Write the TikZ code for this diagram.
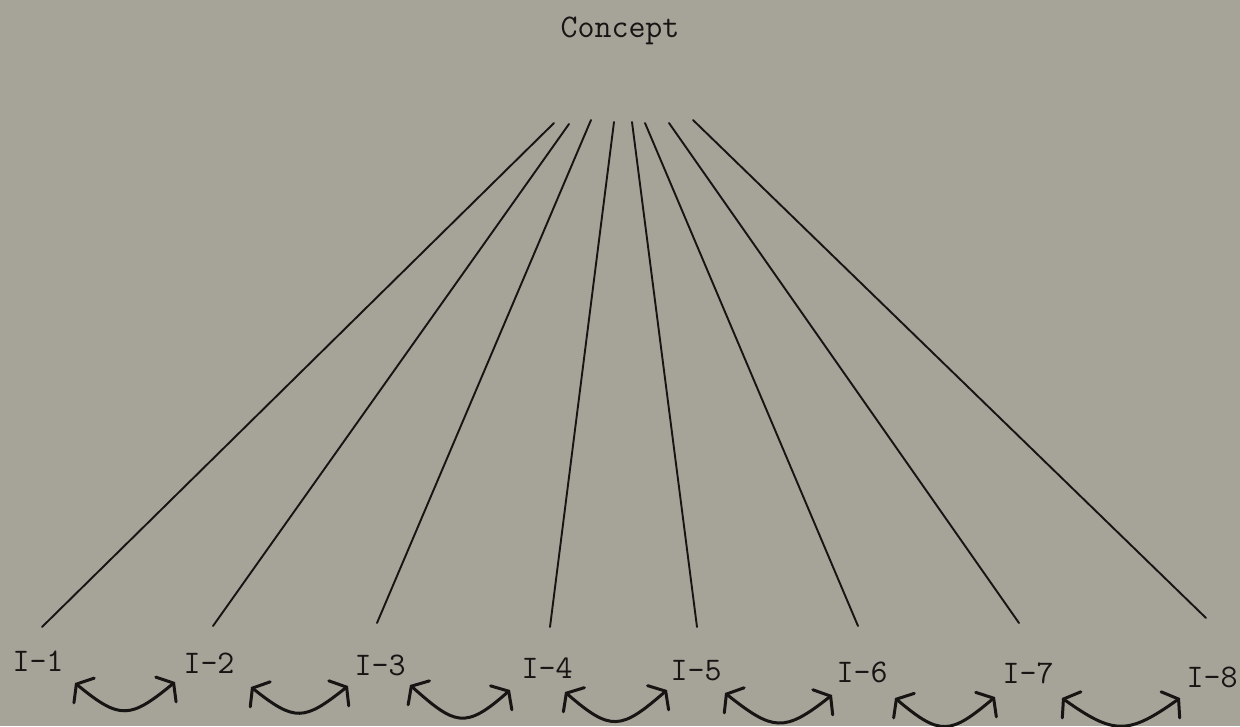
\documentclass[tikz,border=0pt]{standalone}
\usetikzlibrary{arrows.meta}
\definecolor{bg}{RGB}{166,163,152}
\definecolor{ink}{RGB}{22,21,20}
\begin{document}
\begin{tikzpicture}[x=1pt,y=-1pt,
  lbl/.style={font=\ttfamily\fontsize{33}{33}\selectfont, text=ink, inner sep=0pt, anchor=base},
  spoke/.style={draw=ink, line width=1.9pt, line cap=round},
  swap/.style={draw=ink, line width=3pt, line cap=round,
    {Straight Barb[length=10pt,width=32pt,line cap=round]}-{Straight Barb[length=10pt,width=32pt,line cap=round]}}]
\fill[bg] (0,0) rectangle (1240,726);
\useasboundingbox (0,0) rectangle (1240,726);

\node[lbl] (concept) at (620,37) {Concept};

\node[lbl] (i1) at (38,671) {I-1};
\node[lbl] (i2) at (209,673) {I-2};
\node[lbl] (i3) at (380,675) {I-3};
\node[lbl] (i4) at (547,678) {I-4};
\node[lbl] (i5) at (696,680) {I-5};
\node[lbl] (i6) at (862,682) {I-6};
\node[lbl] (i7) at (1028,683) {I-7};
\node[lbl] (i8) at (1212,687) {I-8};

% spoke ends
\coordinate (t1) at (554,123); \coordinate (b1) at (42,627);
\coordinate (t2) at (569,124); \coordinate (b2) at (213,626);
\coordinate (t3) at (591,120); \coordinate (b3) at (377,623);
\coordinate (t4) at (614,122); \coordinate (b4) at (550,627);
\coordinate (t5) at (632,122); \coordinate (b5) at (697,627);
\coordinate (t6) at (645,123); \coordinate (b6) at (858,626);
\coordinate (t7) at (669,123); \coordinate (b7) at (1019,623);
\coordinate (t8) at (693,120); \coordinate (b8) at (1206,618);

\foreach \k in {1,...,8} \draw[spoke] (t\k) -- (b\k);

% exchange arcs
\coordinate (l1) at (75,683);   \coordinate (r1) at (175,682);
\coordinate (l2) at (251,687);  \coordinate (r2) at (348,686);
\coordinate (l3) at (410,685);  \coordinate (r3) at (510,690);
\coordinate (l4) at (565,692);  \coordinate (r4) at (667,690);
\coordinate (l5) at (725,693);  \coordinate (r5) at (832,695);
\coordinate (l6) at (895,698);  \coordinate (r6) at (995,697);
\coordinate (l7) at (1062,698); \coordinate (r7) at (1180,698);

\draw[swap] (l1) .. controls +(45,37) and +(-45,37) .. (r1);
\draw[swap] (l2) .. controls +(44,35) and +(-44,35) .. (r2);
\draw[swap] (l3) .. controls +(45,40) and +(-45,40) .. (r3);
\draw[swap] (l4) .. controls +(46,40) and +(-46,40) .. (r4);
\draw[swap] (l5) .. controls +(48,38) and +(-48,38) .. (r5);
\draw[swap] (l6) .. controls +(45,38) and +(-45,38) .. (r6);
\draw[swap] (l7) .. controls +(52,37) and +(-52,37) .. (r7);
\end{tikzpicture}
\end{document}
